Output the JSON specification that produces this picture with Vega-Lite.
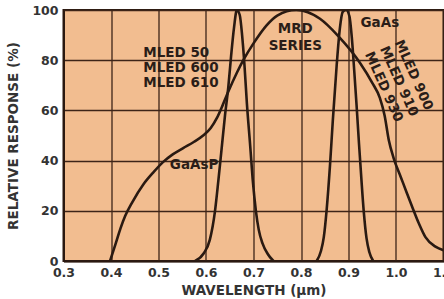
{
  "$schema": "https://vega.github.io/schema/vega-lite/v6.json",
  "autosize": "none",
  "width": 380,
  "height": 251,
  "padding": {"left": 63.5, "top": 10, "right": 1, "bottom": 38},
  "background": "#ffffff",
  "config": {
    "view": {"fill": "#f2bd90", "stroke": "#2a1810", "strokeWidth": 2},
    "font": "DejaVu Sans",
    "axis": {
      "labelFont": "DejaVu Sans",
      "labelFontWeight": "bold",
      "labelFontSize": 12.5,
      "labelColor": "#333333",
      "labelFlush": false,
      "labelOverlap": false,
      "titleFont": "DejaVu Sans",
      "titleFontWeight": "bold",
      "titleFontSize": 13.5,
      "titleColor": "#333333",
      "gridColor": "#3d2418",
      "gridWidth": 1.3,
      "gridOpacity": 1,
      "domainColor": "#2a1810",
      "domainWidth": 2,
      "tickSize": 0
    }
  },
  "datasets": {
    "curves": [
      {"series": "MRD", "w": 0.398, "v": 0},
      {"series": "MRD", "w": 0.41, "v": 7},
      {"series": "MRD", "w": 0.42, "v": 13},
      {"series": "MRD", "w": 0.43, "v": 18},
      {"series": "MRD", "w": 0.445, "v": 23.5},
      {"series": "MRD", "w": 0.468, "v": 30.5},
      {"series": "MRD", "w": 0.49, "v": 35.5},
      {"series": "MRD", "w": 0.51, "v": 39.5},
      {"series": "MRD", "w": 0.53, "v": 42.5},
      {"series": "MRD", "w": 0.552, "v": 45},
      {"series": "MRD", "w": 0.575, "v": 47.5},
      {"series": "MRD", "w": 0.594, "v": 50},
      {"series": "MRD", "w": 0.61, "v": 53},
      {"series": "MRD", "w": 0.623, "v": 57},
      {"series": "MRD", "w": 0.636, "v": 62.5},
      {"series": "MRD", "w": 0.647, "v": 67.5},
      {"series": "MRD", "w": 0.665, "v": 75},
      {"series": "MRD", "w": 0.68, "v": 80.5},
      {"series": "MRD", "w": 0.7, "v": 86.7},
      {"series": "MRD", "w": 0.728, "v": 94},
      {"series": "MRD", "w": 0.75, "v": 97.8},
      {"series": "MRD", "w": 0.79, "v": 100},
      {"series": "MRD", "w": 0.84, "v": 96.5},
      {"series": "MRD", "w": 0.879, "v": 89.5},
      {"series": "MRD", "w": 0.924, "v": 79},
      {"series": "MRD", "w": 0.95, "v": 71},
      {"series": "MRD", "w": 0.966, "v": 65},
      {"series": "MRD", "w": 0.976, "v": 58},
      {"series": "MRD", "w": 0.985, "v": 48},
      {"series": "MRD", "w": 0.995, "v": 41},
      {"series": "MRD", "w": 1.01, "v": 33.5},
      {"series": "MRD", "w": 1.023, "v": 27},
      {"series": "MRD", "w": 1.034, "v": 21.6},
      {"series": "MRD", "w": 1.048, "v": 15},
      {"series": "MRD", "w": 1.062, "v": 9.5},
      {"series": "MRD", "w": 1.083, "v": 5.7},
      {"series": "MRD", "w": 1.1, "v": 4.3},
      {"series": "GaAsP", "w": 0.577, "v": 0},
      {"series": "GaAsP", "w": 0.595, "v": 3},
      {"series": "GaAsP", "w": 0.608, "v": 8.4},
      {"series": "GaAsP", "w": 0.619, "v": 20},
      {"series": "GaAsP", "w": 0.626, "v": 32},
      {"series": "GaAsP", "w": 0.633, "v": 45},
      {"series": "GaAsP", "w": 0.64, "v": 58},
      {"series": "GaAsP", "w": 0.647, "v": 69.4},
      {"series": "GaAsP", "w": 0.653, "v": 82},
      {"series": "GaAsP", "w": 0.659, "v": 93},
      {"series": "GaAsP", "w": 0.665, "v": 100},
      {"series": "GaAsP", "w": 0.671, "v": 98},
      {"series": "GaAsP", "w": 0.676, "v": 90},
      {"series": "GaAsP", "w": 0.681, "v": 78},
      {"series": "GaAsP", "w": 0.686, "v": 63},
      {"series": "GaAsP", "w": 0.693, "v": 46},
      {"series": "GaAsP", "w": 0.699, "v": 31},
      {"series": "GaAsP", "w": 0.705, "v": 20},
      {"series": "GaAsP", "w": 0.711, "v": 12.5},
      {"series": "GaAsP", "w": 0.719, "v": 7},
      {"series": "GaAsP", "w": 0.73, "v": 2.8},
      {"series": "GaAsP", "w": 0.742, "v": 0},
      {"series": "GaAs", "w": 0.833, "v": 0},
      {"series": "GaAs", "w": 0.842, "v": 4},
      {"series": "GaAs", "w": 0.848, "v": 9.5},
      {"series": "GaAs", "w": 0.854, "v": 20.4},
      {"series": "GaAs", "w": 0.861, "v": 38},
      {"series": "GaAs", "w": 0.867, "v": 56},
      {"series": "GaAs", "w": 0.875, "v": 77.7},
      {"series": "GaAs", "w": 0.882, "v": 93},
      {"series": "GaAs", "w": 0.888, "v": 99.3},
      {"series": "GaAs", "w": 0.895, "v": 100},
      {"series": "GaAs", "w": 0.902, "v": 97.5},
      {"series": "GaAs", "w": 0.907, "v": 89},
      {"series": "GaAs", "w": 0.912, "v": 76},
      {"series": "GaAs", "w": 0.917, "v": 62},
      {"series": "GaAs", "w": 0.922, "v": 47},
      {"series": "GaAs", "w": 0.927, "v": 33},
      {"series": "GaAs", "w": 0.932, "v": 20},
      {"series": "GaAs", "w": 0.938, "v": 9},
      {"series": "GaAs", "w": 0.944, "v": 3.5},
      {"series": "GaAs", "w": 0.952, "v": 0}
    ],
    "labels": [
      {"text": "MLED 50", "w": 0.468, "v": 82.9},
      {"text": "MLED 600", "w": 0.468, "v": 76.8},
      {"text": "MLED 610", "w": 0.468, "v": 70.8}
    ],
    "clabels": [
      {"text": "MRD", "w": 0.788, "v": 92.4},
      {"text": "SERIES", "w": 0.788, "v": 85.7},
      {"text": "GaAs", "w": 0.966, "v": 94.8},
      {"text": "GaAsP", "w": 0.575, "v": 38.2}
    ],
    "rlabels": [
      {"text": "MLED 900", "w": 1.037, "v": 74.1},
      {"text": "MLED 910", "w": 1.006, "v": 71.6},
      {"text": "MLED 930", "w": 0.974, "v": 69.4}
    ]
  },
  "layer": [
    {
      "data": {"name": "curves"},
      "mark": {"type": "line", "interpolate": "monotone", "color": "#2a1a12", "strokeWidth": 2.6, "clip": true},
      "encoding": {
        "x": {
          "field": "w", "type": "quantitative",
          "scale": {"domain": [0.3, 1.1], "nice": false, "zero": false},
          "axis": {
            "values": [0.3, 0.4, 0.5, 0.6, 0.7, 0.8, 0.9, 1.0, 1.1],
            "format": ".1f",
            "labelPadding": 5,
            "title": "WAVELENGTH (μm)",
            "titlePadding": 5,
            "grid": true
          }
        },
        "y": {
          "field": "v", "type": "quantitative",
          "scale": {"domain": [0, 100], "nice": false},
          "axis": {
            "values": [0, 10, 20, 30, 40, 50, 60, 70, 80, 90, 100],
            "labelExpr": "datum.value % 20 === 0 ? datum.label : ''",
            "labelPadding": 5.5,
            "title": "RELATIVE RESPONSE (%)",
            "titlePadding": 11,
            "grid": true
          }
        },
        "detail": {"field": "series"}
      }
    },
    {
      "data": {"name": "labels"},
      "mark": {"type": "text", "align": "left", "baseline": "middle", "font": "DejaVu Sans", "fontWeight": "bold", "fontSize": 13.5, "color": "#2a1d18"},
      "encoding": {
        "x": {"field": "w", "type": "quantitative"},
        "y": {"field": "v", "type": "quantitative"},
        "text": {"field": "text"}
      }
    },
    {
      "data": {"name": "clabels"},
      "mark": {"type": "text", "align": "center", "baseline": "middle", "font": "DejaVu Sans", "fontWeight": "bold", "fontSize": 13.5, "color": "#2a1d18"},
      "encoding": {
        "x": {"field": "w", "type": "quantitative"},
        "y": {"field": "v", "type": "quantitative"},
        "text": {"field": "text"}
      }
    },
    {
      "data": {"name": "rlabels"},
      "mark": {"type": "text", "align": "center", "baseline": "middle", "angle": 66, "font": "DejaVu Sans", "fontWeight": "bold", "fontSize": 13.5, "color": "#2a1d18"},
      "encoding": {
        "x": {"field": "w", "type": "quantitative"},
        "y": {"field": "v", "type": "quantitative"},
        "text": {"field": "text"}
      }
    }
  ]
}
